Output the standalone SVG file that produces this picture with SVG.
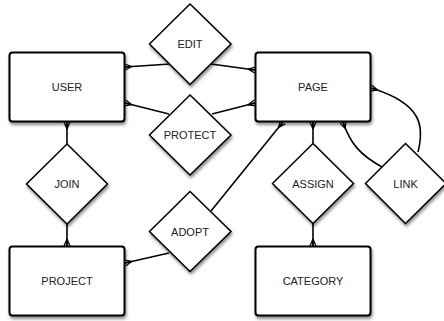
<svg xmlns="http://www.w3.org/2000/svg" width="444" height="321" viewBox="0 0 444 321">
<defs>
<filter id="sh" x="-20%" y="-20%" width="140%" height="150%">
<feDropShadow dx="1" dy="2.5" stdDeviation="1.5" flood-color="#000" flood-opacity="0.45"/>
</filter>
<marker id="crow" markerUnits="userSpaceOnUse" markerWidth="10" markerHeight="10" viewBox="0 -5 8 10" refX="7" refY="0" orient="auto">
<path d="M0,0 L7,-3 M0,0 L7,0 M0,0 L7,3" fill="none" stroke="#000" stroke-width="1.3"/>
</marker>
</defs>
<style>
.ent{fill:#fff;stroke:#000;stroke-width:2;filter:url(#sh)}
.rel{fill:#fff;stroke:#000;stroke-width:1.5;stroke-linejoin:miter;filter:url(#sh)}
.lbl{font-family:"Liberation Sans",Arial,sans-serif;font-size:11px;fill:#222;text-anchor:middle;dominant-baseline:central}
.con{fill:none;stroke:#000;stroke-width:1.6;marker-end:url(#crow)}
</style>
<rect width="444" height="321" fill="#fff"/>
<g id="connectors">
<path class="con" d="M170,64 L125,67"/>
<path class="con" d="M211,64 L255,70"/>
<path class="con" d="M169,114 L125,103"/>
<path class="con" d="M212,114 L255,103"/>
<path class="con" d="M67,144 L67,122"/>
<path class="con" d="M67,224 L67,246"/>
<path class="con" d="M169,253 L125,263"/>
<path class="con" d="M211,211 L283,122"/>
<path class="con" d="M313,143 L313,122"/>
<path class="con" d="M313,224 L313,246"/>
<path class="con" d="M382,167 C360,155 350,143 343,122"/>
<path class="con" d="M418,152 C424,128 424,104 371,88"/>
</g>
<g id="user"><rect class="ent" x="9.5" y="52.5" width="115" height="69" rx="3"/><text class="lbl" x="67" y="87">USER</text></g>
<g id="page"><rect class="ent" x="255.5" y="52.5" width="115" height="69" rx="3"/><text class="lbl" x="313" y="87">PAGE</text></g>
<g id="project"><rect class="ent" x="9.5" y="246.5" width="115" height="69" rx="3"/><text class="lbl" x="67" y="281">PROJECT</text></g>
<g id="category"><rect class="ent" x="255.5" y="246.5" width="115" height="69" rx="3"/><text class="lbl" x="313" y="281">CATEGORY</text></g>
<g id="edit"><path class="rel" d="M190,4 L231,44 L190,84.5 L149.5,44 Z"/><text class="lbl" x="190" y="44">EDIT</text></g>
<g id="protect"><path class="rel" d="M190,95 L231,135 L190,175 L149.5,135 Z"/><text class="lbl" x="190" y="135">PROTECT</text></g>
<g id="join"><path class="rel" d="M67,144 L107.5,184 L67,224 L26.5,184 Z"/><text class="lbl" x="67" y="184">JOIN</text></g>
<g id="adopt"><path class="rel" d="M190,191.5 L231,231.5 L190,271.5 L149.5,231.5 Z"/><text class="lbl" x="190" y="231.5">ADOPT</text></g>
<g id="assign"><path class="rel" d="M313,143.5 L353.5,183.5 L313,223.5 L272.5,183.5 Z"/><text class="lbl" x="313" y="183.5">ASSIGN</text></g>
<g id="link"><path class="rel" d="M405.5,143.5 L446,183.5 L405.5,223.5 L365.5,183.5 Z"/><text class="lbl" x="405.5" y="183.5">LINK</text></g>
</svg>
